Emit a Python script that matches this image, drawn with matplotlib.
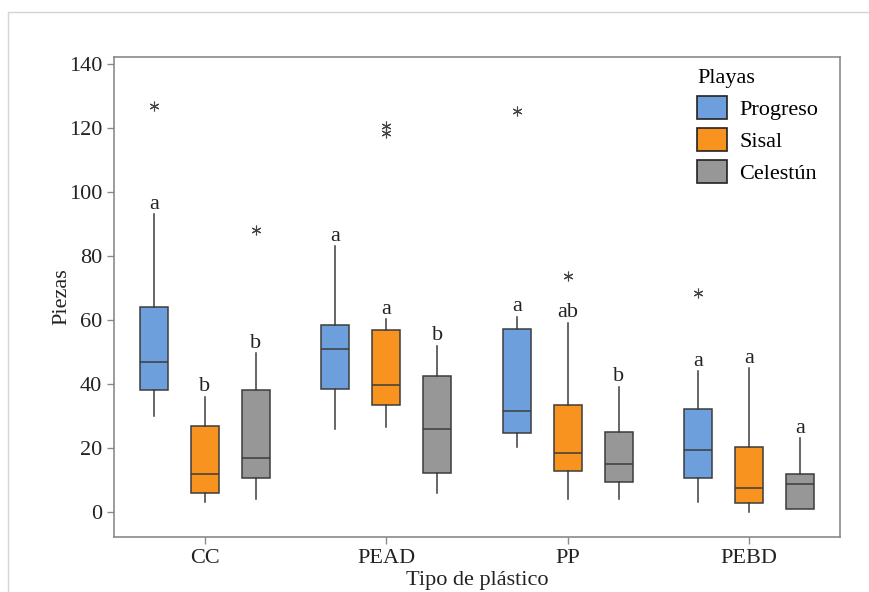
import matplotlib
matplotlib.use("Agg")
import matplotlib.pyplot as plt
from matplotlib.patches import Patch, Rectangle

plt.rcParams['font.family'] = ['Liberation Serif', 'DejaVu Serif']

# data (Minitab style boxplot)
tipos = ['CC', 'PEAD', 'PP', 'PEBD']
playas = ['Progreso', 'Sisal', 'Celestún']
colores = ['#6c9fdb', '#f7931e', '#979797']

# per tipo, per playa: [whisker low, Q1, median, Q3, whisker high]
cc = [[30, 38, 47, 64, 93], [3, 6, 12, 27, 36], [4, 10.7, 17, 38, 49.6]]
pead = [[25.8, 38.3, 51, 58.3, 83], [26.7, 33.6, 39.7, 57, 60.2], [5.8, 12.1, 25.8, 42.5, 52]]
pp = [[20.2, 24.6, 31.7, 57.1, 61], [4, 12.9, 18.3, 33.4, 59.2], [4, 9.3, 15, 24.9, 39.2]]
pebd = [[3.1, 10.7, 19.3, 32.2, 44], [0.1, 2.7, 7.4, 20.3, 44.9], [0.8, 0.8, 8.9, 11.8, 23]]
cajas = [cc, pead, pp, pebd]

outliers = [[[127], [], [88]],
            [[], [120.5, 118.5], []],
            [[125.3], [73.8], []],
            [[68.3], [], []]]

letras = [['a', 'b', 'b'], ['a', 'a', 'b'], ['a', 'ab', 'b'], ['a', 'a', 'a']]

offsets = [-0.28, 0.0, 0.28]
ancho = 0.155
fs = 16

fig = plt.figure(figsize=(8.7, 5.92), dpi=100)
ax = fig.add_axes([114 / 870, 1 - 537 / 592, 726 / 870, 480 / 592])

# light frame around the figure (top and left only visible)
fig.patches.append(Rectangle((8 / 870, -0.1), 1.2, 1.1 - 12 / 592, transform=fig.transFigure,
                             fill=False, edgecolor='#d4d4d4', lw=1.0))

edge = '#3c3c3c'
for i, grupo in enumerate(cajas):
    for j, v in enumerate(grupo):
        pos = i + 1 + offsets[j]
        st = {'whislo': v[0], 'q1': v[1], 'med': v[2], 'q3': v[3], 'whishi': v[4],
              'fliers': outliers[i][j]}
        ax.bxp([st], positions=[pos], widths=ancho, patch_artist=True, showcaps=False,
               boxprops=dict(facecolor=colores[j], edgecolor=edge, lw=1.1),
               medianprops=dict(color=edge, lw=1.1),
               whiskerprops=dict(color=edge, lw=1.1),
               flierprops=dict(marker=(6, 2, 0), markersize=7, markeredgecolor='#444444',
                               markeredgewidth=0.8, linestyle='none'))
        ax.annotate(letras[i][j], (pos, v[4]), xytext=(0, 4), textcoords='offset points',
                    ha='center', va='baseline', fontsize=fs, color='#222222')

ax.set_xlim(0.5, 4.5)
ax.set_ylim(-7.8, 142.2)
ax.set_xticks(range(1, 5))
ax.set_xticklabels(tipos)
ax.set_yticks(range(0, 141, 20))
ax.tick_params(labelsize=fs, colors='#222222', length=5, width=1, direction='out')
ax.tick_params(color='#8a8a8a')
for s in ax.spines.values():
    s.set_color('#8a8a8a')
    s.set_linewidth(1.2)

ax.set_ylabel('Piezas', fontsize=fs, color='#222222', labelpad=-2)
ax.set_xlabel('Tipo de plástico', fontsize=fs, color='#222222', labelpad=2)

handles = [Patch(facecolor=c, edgecolor='#222222', lw=1.2, label=p) for c, p in zip(colores, playas)]
leg = ax.legend(handles=handles, title='Playas', loc='upper left',
                bbox_to_anchor=(697 / 870, 1 - 69 / 592), bbox_transform=fig.transFigure,
                frameon=False, fontsize=fs, title_fontsize=fs, borderpad=0, borderaxespad=0,
                handlelength=1.35, handleheight=1.2, handletextpad=0.55, labelspacing=0.36,
                alignment='left')

fig.savefig('out.png', dpi=100)
